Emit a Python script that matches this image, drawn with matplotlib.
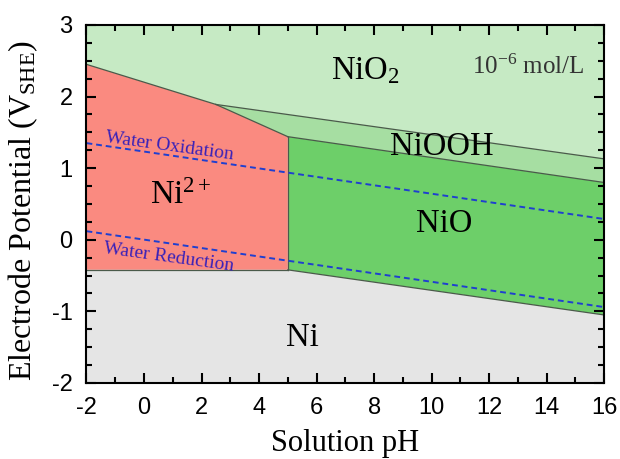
import numpy as np
import matplotlib
matplotlib.use("Agg")
import matplotlib.pyplot as plt
from matplotlib.ticker import MultipleLocator

plt.rcParams["mathtext.fontset"] = "custom"
plt.rcParams["mathtext.rm"] = "Liberation Serif"
plt.rcParams["mathtext.it"] = "Liberation Serif:italic"
plt.rcParams["mathtext.bf"] = "Liberation Serif:bold"
plt.rcParams["axes.unicode_minus"] = False

# ---- data ----
ph_lim = [-2, 16]
e_lim = [-2, 3]

# boundary lines (pH, E)
ni2_nio2_ph = [-2, 2.5];   ni2_nio2_e = [2.45, 1.89]
ni2_niooh_ph = [2.5, 5.0]; ni2_niooh_e = [1.89, 1.44]
nio2_niooh_ph = [2.5, 16]; nio2_niooh_e = [1.89, 1.13]
niooh_nio_ph = [5.0, 16];  niooh_nio_e = [1.44, 0.80]
ni2_nio_ph = [5.0, 5.0];   ni2_nio_e = [1.44, -0.42]
ni2_ni_ph = [-2, 5.0];     ni2_ni_e = [-0.42, -0.42]
nio_ni_ph = [5.0, 16];     nio_ni_e = [-0.42, -1.05]

# water stability lines
water_ph = [-2, 16]
water_ox_e = [1.35, 0.29]
water_red_e = [0.12, -0.94]

region_names = ["NiO$_2$", "NiOOH", "NiO", "Ni$^{2+}$", "Ni"]
region_colors = ["#c6eac4", "#a6dea2", "#6dcf69", "#fa8a80", "#e5e5e5"]

fig = plt.figure(figsize=(6.2, 4.59), dpi=100)
ax = fig.add_axes([0.1395, 0.1656, 0.835, 0.78])

# polygons built from the boundary arrays
nio2_poly = ([(ph_lim[0], e_lim[1]), (ph_lim[1], e_lim[1])]
             + list(zip(nio2_niooh_ph[::-1], nio2_niooh_e[::-1]))
             + list(zip(ni2_nio2_ph[::-1], ni2_nio2_e[::-1])))
niooh_poly = (list(zip(nio2_niooh_ph, nio2_niooh_e))
              + list(zip(niooh_nio_ph[::-1], niooh_nio_e[::-1])))
nio_poly = (list(zip(niooh_nio_ph, niooh_nio_e))
            + list(zip(nio_ni_ph[::-1], nio_ni_e[::-1])))
ni2_poly = (list(zip(ni2_nio2_ph, ni2_nio2_e))
            + list(zip(ni2_niooh_ph[1:], ni2_niooh_e[1:]))
            + list(zip(ni2_nio_ph[1:], ni2_nio_e[1:]))
            + list(zip(ni2_ni_ph[::-1], ni2_ni_e[::-1])))
ni_poly = (list(zip(ni2_ni_ph, ni2_ni_e))
           + list(zip(nio_ni_ph[1:], nio_ni_e[1:]))
           + [(ph_lim[1], e_lim[0]), (ph_lim[0], e_lim[0])])

for poly, col in zip([nio2_poly, niooh_poly, nio_poly, ni2_poly, ni_poly], region_colors):
    xs, ys = zip(*poly)
    ax.fill(xs, ys, color=col, lw=0, zorder=1)

bcol = "#4a5a4a"
for px, py in [(ni2_nio2_ph, ni2_nio2_e), (ni2_niooh_ph, ni2_niooh_e),
               (nio2_niooh_ph, nio2_niooh_e), (niooh_nio_ph, niooh_nio_e),
               (ni2_nio_ph, ni2_nio_e), (ni2_ni_ph, ni2_ni_e), (nio_ni_ph, nio_ni_e)]:
    ax.plot(px, py, color=bcol, lw=0.9, zorder=2)

wcol = "#1f3fd0"
ax.plot(water_ph, water_ox_e, color=wcol, lw=1.4, ls=(0, (3, 2)), zorder=3)
ax.plot(water_ph, water_red_e, color=wcol, lw=1.4, ls=(0, (3, 2)), zorder=3)

serif = ["Liberation Serif", "DejaVu Serif"]
ax.text(7.69, 2.36, region_names[0], fontsize=23.5, family=serif, ha="center", va="center", zorder=4)
ax.text(10.37, 1.30, region_names[1], fontsize=23.5, family=serif, ha="center", va="center", zorder=4)
ax.text(10.43, 0.23, region_names[2], fontsize=23.5, family=serif, ha="center", va="center", zorder=4)
ax.text(1.29, 0.62, region_names[3], fontsize=23.5, family=serif, ha="center", va="center", zorder=4)
ax.text(5.5, -1.37, region_names[4], fontsize=23.5, family=serif, ha="center", va="center", zorder=4)
ax.text(13.36, 2.42, "10$^{-6}$ mol/L", fontsize=18, family=serif, ha="center", va="center",
        color="#333333", zorder=4)

tcol = "#3a22b8"
ax.text(0.87, 1.30, "Water Oxidation", fontsize=14, family=serif, color=tcol,
        ha="center", va="center", rotation=-7.8, zorder=4)
ax.text(0.87, -0.24, "Water Reduction", fontsize=14, family=serif, color=tcol,
        ha="center", va="center", rotation=-7.8, zorder=4)

ax.set_xlim(ph_lim)
ax.set_ylim(e_lim)
ax.xaxis.set_major_locator(MultipleLocator(2))
ax.xaxis.set_minor_locator(MultipleLocator(1))
ax.yaxis.set_major_locator(MultipleLocator(1))
ax.yaxis.set_minor_locator(MultipleLocator(0.25))
ax.tick_params(which="both", direction="in", top=True, right=True, width=1.5, color="black")
ax.tick_params(which="major", length=7.5, labelsize=17, pad=10)
ax.tick_params(which="minor", length=4)
for lab in ax.get_xticklabels() + ax.get_yticklabels():
    lab.set_family(["Liberation Sans", "DejaVu Sans"])
for s in ax.spines.values():
    s.set_linewidth(1.5)
    s.set_zorder(5)

ax.set_xlabel("Solution pH", fontsize=22, family=serif, labelpad=7)
ax.set_ylabel("Electrode Potential (V$_{\\mathrm{SHE}}$)", fontsize=23, family=serif)
ax.yaxis.set_label_coords(-0.09, 0.48)

fig.savefig("out.png", dpi=100)
